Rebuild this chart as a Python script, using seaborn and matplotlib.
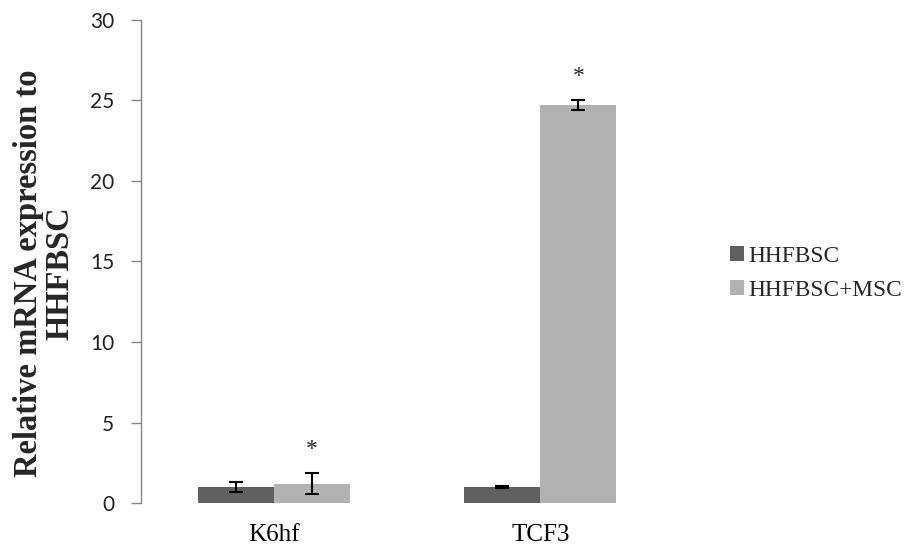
import pandas as pd
import seaborn as sns
import matplotlib.pyplot as plt

# values
genes = ["K6hf", "TCF3"]
groups = ["HHFBSC", "HHFBSC+MSC"]
hhfbsc = [1.0, 1.0]
hhfbsc_msc = [1.2, 24.7]
err_hhfbsc = [0.3, 0.05]
err_msc = [0.65, 0.3]
# significance marks, one per bar in hue order
stars = [False, False, True, True]

df = pd.DataFrame({
    "gene": genes * 2,
    "group": [groups[0]] * 2 + [groups[1]] * 2,
    "value": hhfbsc + hhfbsc_msc,
    "err": err_hhfbsc + err_msc,
})

sns.set_theme(style="white")
serif = ["Liberation Serif", "DejaVu Serif"]

fig = plt.figure(figsize=(9.14, 5.48), dpi=100)
ax = fig.add_axes([0.154, 0.082, 0.583, 0.882])

sns.barplot(data=df, x="gene", y="value", hue="group", order=genes, hue_order=groups,
            palette=["#606060", "#b2b2b2"], width=0.57, errorbar=None,
            saturation=1, edgecolor="none", ax=ax)

# error bars + stars
for patch, (_, row), star in zip(ax.patches, df.iterrows(), stars):
    cx = patch.get_x() + patch.get_width() / 2
    ax.errorbar(cx, row["value"], yerr=row["err"], fmt="none", ecolor="black",
                elinewidth=1.5, capsize=5, capthick=1.5)
    if star:
        ax.text(cx, row["value"] + row["err"] + 1.5, "*", ha="center", va="center",
                fontsize=17, family=serif)

ax.set_ylim(0, 30)
ax.set_xlim(-0.5, 1.5)
ax.set_yticks(range(0, 31, 5))
ax.set_xlabel("")
ax.set_ylabel("Relative mRNA expression to\nHHFBSC", fontsize=23.5, fontweight="bold",
              family=serif, linespacing=1.0)
ax.yaxis.set_label_coords(-0.123, 0.475)

for lab in ax.get_yticklabels():
    lab.set_family(["Lato", "DejaVu Sans"])
    lab.set_fontsize(15)
    lab.set_color("#222222")
for lab in ax.get_xticklabels():
    lab.set_family(serif)
    lab.set_fontsize(18)
    lab.set_color("black")

ax.tick_params(axis="y", left=True, length=7, width=1, color="#868686", pad=12)
ax.tick_params(axis="x", bottom=False, pad=9)
sns.despine(ax=ax, bottom=True)
ax.spines["left"].set_color("#868686")
ax.spines["left"].set_linewidth(1)

ax.legend(loc="center left", bbox_to_anchor=(1.066, 0.475), frameon=False,
          prop={"family": serif, "size": 16.8}, handlelength=0.6, handleheight=0.6,
          handletextpad=0.2, labelspacing=0.55)

fig.savefig("out.png", dpi=100)
